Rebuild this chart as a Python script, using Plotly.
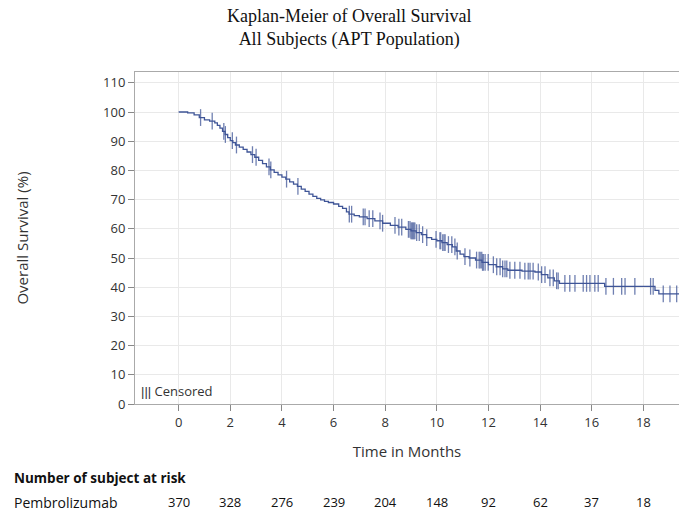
import numpy as np
import plotly.graph_objects as go

# KM step curve (months, survival %)
step_time = [0, 0.35, 0.6, 0.8, 1.0, 1.2, 1.4, 1.5, 1.6, 1.7, 1.8, 1.9, 2.0, 2.1, 2.2, 2.35, 2.5,
             2.65, 2.8, 2.95, 3.1, 3.25, 3.4, 3.55, 3.7, 3.85, 4.0, 4.15, 4.3, 4.45, 4.6, 4.75,
             4.9, 5.05, 5.2, 5.35, 5.5, 5.65, 5.8, 6.0, 6.2, 6.35, 6.5, 6.6, 6.8, 7.0, 7.3, 7.6,
             7.9, 8.2, 8.5, 8.8, 9.0, 9.2, 9.4, 9.6, 9.8, 10.0, 10.2, 10.4, 10.6, 10.75, 10.9,
             11.05, 11.25, 11.5, 11.75, 12.0, 12.3, 12.55, 12.75, 13.3, 13.8, 14.05, 14.3, 14.55,
             14.75, 16.5, 18.45, 18.6, 19.4]
step_surv = [100, 99.7, 99.0, 98.1, 97.3, 96.9, 96.3, 95.4, 94.5, 93.4, 92.3, 91.2, 90.2, 89.5,
             88.7, 88.0, 87.2, 86.3, 85.4, 84.5, 83.4, 82.3, 81.2, 80.2, 79.3, 78.5, 77.7, 77.0,
             76.1, 75.3, 74.5, 73.6, 72.8, 71.9, 71.1, 70.4, 69.9, 69.4, 69.0, 68.5, 67.7, 67.0,
             65.8, 65.0, 64.5, 64.1, 63.5, 62.7, 61.9, 61.2, 60.6, 59.8, 59.3, 58.7, 58.0, 57.0,
             56.4, 55.9, 55.3, 54.6, 53.8, 52.4, 51.3, 50.5, 50.0, 49.3, 48.5, 47.7, 47.0, 46.3,
             45.8, 45.5, 45.2, 44.3, 43.2, 42.2, 41.3, 40.3, 38.9, 37.7, 37.7]

# Censored observation times (months)
censor_time = [0.85, 1.3, 1.75, 1.81, 2.08, 2.24, 2.86, 3.0, 3.5, 3.57, 4.18, 4.62,
               6.61, 6.70, 7.15, 7.22, 7.38, 7.52, 7.80, 7.90, 8.38, 8.53, 8.64, 8.90, 8.96,
               9.0, 9.03, 9.06, 9.09, 9.12, 9.15, 9.22, 9.32, 9.45, 9.61, 9.97, 10.12, 10.15,
               10.23, 10.28, 10.32, 10.45, 10.58, 10.70, 10.79, 11.09, 11.28, 11.54, 11.64,
               11.68, 11.74, 11.77, 11.80, 11.87, 11.99, 12.19, 12.32, 12.45, 12.55, 12.64,
               12.71, 12.83, 13.02, 13.22, 13.41, 13.54, 13.61, 13.73, 13.93, 14.06, 14.19,
               14.38, 14.51, 14.64, 14.70, 14.96, 15.15, 15.35, 15.67, 15.80, 15.93, 16.12,
               16.25, 16.55, 16.84, 17.16, 17.29, 17.67, 18.28, 18.38, 18.77, 19.03, 19.29]

risk_times = [0, 2, 4, 6, 8, 10, 12, 14, 16, 18]
risk_counts = [370, 328, 276, 239, 204, 148, 92, 62, 37, 18]
group_name = "Pembrolizumab"

y_ticks = list(range(0, 111, 10))
x_ticks = list(range(0, 19, 2))

COL = "#3F5597"

# survival at censor times from the step curve
idx = np.searchsorted(np.array(step_time), np.array(censor_time), side="right") - 1
censor_surv = [step_surv[i] for i in idx]

fig = go.Figure()
fig.add_trace(go.Scatter(x=step_time, y=step_surv, mode="lines",
                         line=dict(color=COL, width=1.3, shape="hv"),
                         showlegend=False, hoverinfo="skip"))
fig.add_trace(go.Scatter(x=censor_time, y=censor_surv, mode="markers",
                         marker=dict(symbol="line-ns", size=12, color=COL,
                                     line=dict(color=COL, width=1.3)),
                         opacity=0.75, showlegend=False))

font_sans = "Open Sans, Liberation Sans, Arial, sans-serif"
PW, PH = 544, 332
fig.update_layout(
    width=679, height=513,
    margin=dict(l=135, r=0, t=72, b=109),
    paper_bgcolor="white", plot_bgcolor="white",
    font=dict(family=font_sans, size=13, color="#333333"),
    xaxis=dict(range=[-1.69, 19.38], tickvals=x_ticks, ticks="outside", ticklen=6,
               tickcolor="#888888", showline=True, linecolor="#aaaaaa", linewidth=1,
               mirror=True, showgrid=True, gridcolor="#e9e9e9", gridwidth=1,
               zeroline=False, tickfont=dict(size=13, color="#333333"),
               title=dict(text="Time in Months", font=dict(size=15, color="#333333"),
                          standoff=16)),
    yaxis=dict(range=[0, 113.7], tickvals=y_ticks, ticks="outside", ticklen=6,
               tickcolor="#888888", showline=True, linecolor="#aaaaaa", linewidth=1,
               showgrid=True, gridcolor="#e9e9e9", gridwidth=1, zeroline=False,
               tickfont=dict(size=13, color="#333333"),
               title=dict(text="Overall Survival (%)", font=dict(size=15, color="#333333"),
                          standoff=70)),
)

ann = []
ann.append(dict(text="Kaplan-Meier of Overall Survival<br>All Subjects (APT Population)",
                xref="paper", yref="paper", x=(349 - 135) / PW, y=1 + (72 - 4) / PH,
                xanchor="center", yanchor="top", showarrow=False, align="center",
                font=dict(family="Liberation Serif, Times New Roman, serif", size=18,
                          color="#111111")))
ann.append(dict(text="<span style='font-family:Liberation Sans'>|||</span> Censored",
                xref="paper", yref="paper", x=4 / PW, y=(404 - 391) / PH,
                xanchor="left", yanchor="middle", showarrow=False,
                font=dict(size=13, color="#333333")))
ann.append(dict(text="<b>Number of subject at risk</b>", xref="paper", yref="paper",
                x=-123 / PW, y=-(478 - 404) / PH, xanchor="left", yanchor="middle",
                showarrow=False, font=dict(size=13.5, color="#111111")))
ann.append(dict(text=group_name, xref="paper", yref="paper",
                x=-123 / PW, y=-(502 - 404) / PH, xanchor="left", yanchor="middle",
                showarrow=False, font=dict(size=14, color="#111111")))
for t, n in zip(risk_times, risk_counts):
    ann.append(dict(text=str(n), xref="x", yref="paper", x=t, y=-(502 - 404) / PH,
                    xanchor="center", yanchor="middle", showarrow=False,
                    font=dict(size=13, color="#111111")))
fig.update_layout(annotations=ann)

fig.write_html("out.html", config={"displayModeBar": False},
               post_script="document.body.style.margin='0';document.body.style.overflow='hidden';")
